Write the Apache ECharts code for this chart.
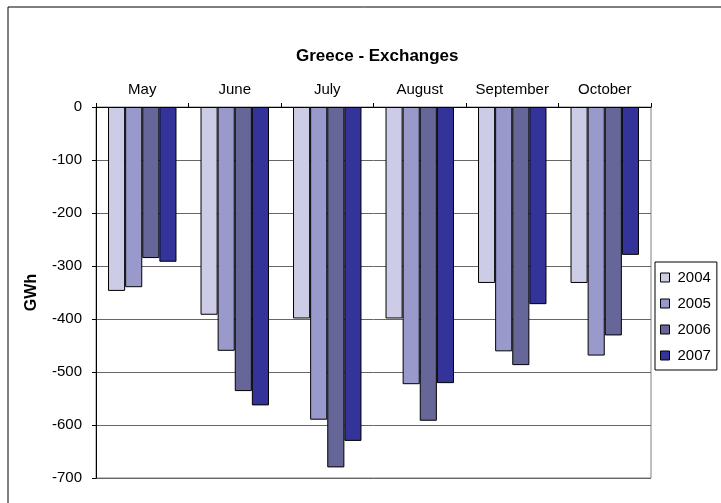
<!DOCTYPE html>
<html>
<head>
<meta charset="utf-8">
<script src="https://cdn.jsdelivr.net/npm/echarts@6/dist/echarts.min.js"></script>
<style>
html,body{margin:0;padding:0;background:#fff;}
#main{width:721px;height:503px;}
</style>
</head>
<body>
<div id="main"></div>
<script>
var months = ['May', 'June', 'July', 'August', 'September', 'October'];
var years = ['2004', '2005', '2006', '2007'];
var colors = ['#CCCCE6', '#9999CC', '#666699', '#333399'];
var y2004 = [-347, -392, -399, -399, -332, -332];
var y2005 = [-340, -460, -590, -523, -461, -469];
var y2006 = [-285, -536, -680, -592, -487, -431];
var y2007 = [-292, -563, -630, -521, -372, -279];
var yTicks = [0, -100, -200, -300, -400, -500, -600, -700];

var font = 'Arial, "Liberation Sans", sans-serif';
var values = [y2004, y2005, y2006, y2007];

var series = [];
for (var i = 0; i < years.length; i++) {
	series.push({
		name: years[i],
		type: 'bar',
		data: values[i],
		barGap: 0,
		barCategoryGap: '26%',
		itemStyle: {color: colors[i], borderColor: '#000', borderWidth: 1}
	});
}

var myChart = echarts.init(document.getElementById('main'));
var option = {
	backgroundColor: '#fff',
	animation: false,
	title: {
		text: 'Greece - Exchanges',
		left: 291,
		top: 43,
		textStyle: {fontFamily: font, fontSize: 17, fontWeight: 'bold', color: '#000'}
	},
	legend: {
		orient: 'vertical',
		left: 655,
		top: 262,
		data: years,
		icon: 'rect',
		itemWidth: 9,
		itemHeight: 9,
		itemGap: 11,
		padding: [8, 6, 7, 5],
		borderColor: '#000',
		borderWidth: 1,
		itemStyle: {borderColor: '#000', borderWidth: 1},
		textStyle: {fontFamily: font, fontSize: 15, color: '#000', padding: [0, 0, 0, 3]}
	},
	grid: {
		left: 96,
		right: 70,
		top: 107,
		bottom: 25,
		show: true,
		borderColor: '#808080',
		borderWidth: 1
	},
	xAxis: {
		type: 'category',
		position: 'top',
		data: months,
		axisLine: {lineStyle: {color: '#000'}},
		axisTick: {show: true, interval: 0, length: 4, lineStyle: {color: '#000'}},
		axisLabel: {interval: 0, fontFamily: font, fontSize: 15, color: '#000', margin: 10}
	},
	yAxis: {
		type: 'value',
		min: -700,
		max: 0,
		interval: 100,
		name: 'GWh',
		nameLocation: 'middle',
		nameGap: 56,
		nameTextStyle: {fontFamily: font, fontSize: 16, fontWeight: 'bold', color: '#000'},
		axisLine: {show: true, lineStyle: {color: '#000'}},
		axisTick: {show: true, length: 4, lineStyle: {color: '#000'}},
		axisLabel: {fontFamily: font, fontSize: 15, color: '#000', margin: 14,
			formatter: function (v) { return yTicks.indexOf(v) >= 0 ? String(v) : ''; }},
		splitLine: {show: true, lineStyle: {color: '#666'}}
	},
	graphic: [{
		type: 'polyline',
		shape: {points: [[8, 503], [8, 7], [721, 7]]},
		style: {stroke: '#000', fill: null, lineWidth: 1}
	}],
	series: series
};
myChart.setOption(option);
</script>
</body>
</html>
